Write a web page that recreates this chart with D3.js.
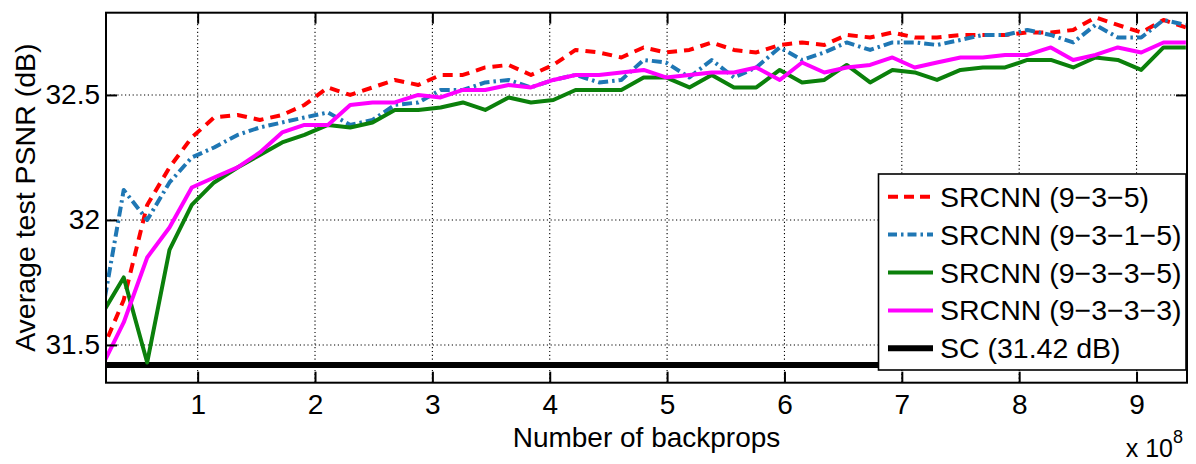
<!DOCTYPE html>
<html>
<head>
<meta charset="utf-8">
<script src="https://cdn.jsdelivr.net/npm/d3@7"></script>
<style>
  body { margin: 0; background: #fff; }
  text { font-family: "Liberation Sans", Arial, Helvetica, sans-serif; fill: #000; }
</style>
</head>
<body>
<svg id="chart" width="1196" height="464"></svg>
<script>
// Training checkpoints (x 10^8 backprops)
const backprops = [0.18,0.37,0.57,0.76,0.95,1.14,1.34,1.53,1.72,1.91,2.11,2.30,2.49,2.68,2.88,
  3.07,3.26,3.45,3.65,3.84,4.03,4.22,4.42,4.61,4.80,4.99,5.19,5.38,5.57,5.76,5.96,6.15,6.34,
  6.53,6.73,6.92,7.11,7.30,7.50,7.69,7.88,8.07,8.27,8.46,8.65,8.84,9.04,9.23,9.42];

// Average test PSNR (dB) for each network
const psnr935 = [31.47,31.68,32.06,32.21,32.33,32.41,32.42,32.40,32.42,32.46,32.53,32.50,32.53,
  32.56,32.54,32.58,32.58,32.61,32.62,32.58,32.62,32.68,32.67,32.65,32.69,32.67,32.68,32.71,
  32.68,32.67,32.70,32.71,32.70,32.74,32.73,32.75,32.73,32.73,32.74,32.74,32.74,32.75,32.75,
  32.76,32.81,32.78,32.75,32.80,32.77];
const psnr9315 = [31.61,32.12,32.00,32.15,32.25,32.29,32.34,32.37,32.39,32.41,32.43,32.38,32.40,
  32.46,32.47,32.52,32.52,32.55,32.56,32.53,32.56,32.58,32.55,32.56,32.64,32.63,32.57,32.64,
  32.57,32.61,32.69,32.64,32.67,32.71,32.68,32.71,32.71,32.70,32.72,32.74,32.74,32.76,32.74,
  32.71,32.78,32.73,32.73,32.80,32.78];
const psnr9335 = [31.62,31.77,31.43,31.88,32.06,32.15,32.21,32.26,32.31,32.34,32.38,32.37,32.39,
  32.44,32.44,32.45,32.47,32.44,32.49,32.47,32.48,32.52,32.52,32.52,32.57,32.57,32.53,32.58,
  32.53,32.53,32.60,32.55,32.56,32.62,32.55,32.60,32.59,32.56,32.60,32.61,32.61,32.64,32.64,
  32.61,32.65,32.64,32.60,32.69,32.69];
const psnr9333 = [31.41,31.59,31.85,31.97,32.13,32.17,32.21,32.27,32.35,32.38,32.38,32.46,32.47,
  32.47,32.50,32.49,32.52,32.52,32.54,32.53,32.56,32.58,32.58,32.59,32.60,32.57,32.58,32.59,
  32.59,32.61,32.56,32.63,32.59,32.61,32.62,32.65,32.61,32.63,32.65,32.65,32.66,32.66,32.69,
  32.64,32.66,32.69,32.67,32.71,32.71];
const scPsnr = 31.42;

const xTicks = [1, 2, 3, 4, 5, 6, 7, 8, 9];
const yTicks = [31.5, 32, 32.5];
const legendLabels = ["SRCNN (9\u22123\u22125)", "SRCNN (9\u22123\u22121\u22125)",
  "SRCNN (9\u22123\u22123\u22125)", "SRCNN (9\u22123\u22123\u22123)", "SC (31.42 dB)"];

const plot = { left: 106, top: 12.7, right: 1187, bottom: 382.7 };
const svg = d3.select("#chart");

const x = d3.scaleLinear().domain([0.219, 9.43]).range([plot.left, plot.right]);
const y = d3.scaleLinear().domain([31.349, 32.829]).range([plot.bottom, plot.top]);

svg.append("defs").append("clipPath").attr("id", "plotClip")
  .append("rect")
  .attr("x", plot.left).attr("y", plot.top)
  .attr("width", plot.right - plot.left).attr("height", plot.bottom - plot.top);

// dotted grid
const grid = svg.append("g").attr("stroke", "#000").attr("stroke-width", 1.1)
  .attr("stroke-dasharray", "1.2,2.6");
grid.selectAll(".gx").data(xTicks).join("line")
  .attr("x1", d => x(d)).attr("x2", d => x(d))
  .attr("y1", plot.top).attr("y2", plot.bottom);
grid.selectAll(".gy").data(yTicks).join("line")
  .attr("x1", plot.left).attr("x2", plot.right)
  .attr("y1", d => y(d)).attr("y2", d => y(d));

// series
const series = [
  { label: legendLabels[0], values: psnr935,  color: "#ff0000", dash: "10,7",       legendDash: "10,6",      width: 4 },
  { label: legendLabels[1], values: psnr9315, color: "#1f77b4", dash: "10,4,2.5,4", legendDash: "9,4,2.5,4", width: 4 },
  { label: legendLabels[2], values: psnr9335, color: "#0b800b", dash: null,         legendDash: null,        width: 4 },
  { label: legendLabels[3], values: psnr9333, color: "#ff00ff", dash: null,         legendDash: null,        width: 4 }
];

const lines = svg.append("g").attr("clip-path", "url(#plotClip)");
lines.append("line")
  .attr("x1", x(x.domain()[0])).attr("x2", x(x.domain()[1]))
  .attr("y1", y(scPsnr)).attr("y2", y(scPsnr))
  .attr("stroke", "#000").attr("stroke-width", 6);

const lineGen = d3.line().x(d => x(d[0])).y(d => y(d[1]));
series.forEach(s => {
  lines.append("path")
    .datum(backprops.map((b, i) => [b, s.values[i]]))
    .attr("d", lineGen)
    .attr("fill", "none")
    .attr("stroke", s.color)
    .attr("stroke-width", s.width)
    .attr("stroke-linejoin", "round")
    .attr("stroke-dasharray", s.dash);
});

// axes with inward ticks on all four sides
const tickLen = 11;
const styleAxis = g => {
  g.select(".domain").remove();
  g.selectAll(".tick line").attr("stroke", "#000").attr("stroke-width", 2);
  g.selectAll(".tick text").attr("font-size", 28).attr("fill", "#000")
    .attr("font-family", "'Liberation Sans', Arial, Helvetica, sans-serif");
};
svg.append("g").attr("transform", `translate(0,${plot.bottom})`)
  .call(d3.axisBottom(x).tickValues(xTicks).tickSize(-tickLen).tickPadding(11).tickFormat(d3.format("d")))
  .call(styleAxis);
svg.append("g").attr("transform", `translate(0,${plot.top})`)
  .call(d3.axisTop(x).tickValues(xTicks).tickSize(-tickLen).tickFormat(""))
  .call(styleAxis);
svg.append("g").attr("transform", `translate(${plot.left},0)`)
  .call(d3.axisLeft(y).tickValues(yTicks).tickSize(-tickLen).tickPadding(6).tickFormat(d => String(d)))
  .call(styleAxis);
svg.append("g").attr("transform", `translate(${plot.right},0)`)
  .call(d3.axisRight(y).tickValues(yTicks).tickSize(-tickLen).tickFormat(""))
  .call(styleAxis);

// frame
svg.append("rect")
  .attr("x", plot.left).attr("y", plot.top)
  .attr("width", plot.right - plot.left).attr("height", plot.bottom - plot.top)
  .attr("fill", "none").attr("stroke", "#000").attr("stroke-width", 2);

// axis titles
svg.append("text")
  .attr("x", (plot.left + plot.right) / 2).attr("y", 447)
  .attr("text-anchor", "middle").attr("font-size", 28)
  .text("Number of backprops");
svg.append("text")
  .attr("transform", `translate(35,${(plot.top + plot.bottom) / 2}) rotate(-90)`)
  .attr("text-anchor", "middle").attr("font-size", 28.5)
  .text("Average test PSNR (dB)");
const expo = svg.append("text").attr("x", 1183).attr("y", 457)
  .attr("text-anchor", "end").attr("font-size", 25);
expo.append("tspan").text("x 10");
expo.append("tspan").attr("font-size", 18).attr("dy", -14).text("8");

// legend
const legend = svg.append("g");
legend.append("rect")
  .attr("x", 878.5).attr("y", 174).attr("width", 307.5).attr("height", 196)
  .attr("fill", "#fff").attr("stroke", "#000").attr("stroke-width", 1.6);
const legendItems = series.map(s => ({ label: s.label, color: s.color, dash: s.legendDash, width: s.width }))
  .concat([{ label: legendLabels[4], color: "#000", dash: null, width: 6 }]);
const rowY = d3.scalePoint().domain(d3.range(legendItems.length)).range([196.7, 348.3]);
legendItems.forEach((item, i) => {
  const cy = rowY(i);
  legend.append("line")
    .attr("x1", 888).attr("x2", 933).attr("y1", cy).attr("y2", cy)
    .attr("stroke", item.color).attr("stroke-width", item.width)
    .attr("stroke-dasharray", item.dash);
  legend.append("text")
    .attr("x", 940).attr("y", cy + 10).attr("font-size", 28.5)
    .text(item.label);
});
</script>
</body>
</html>
